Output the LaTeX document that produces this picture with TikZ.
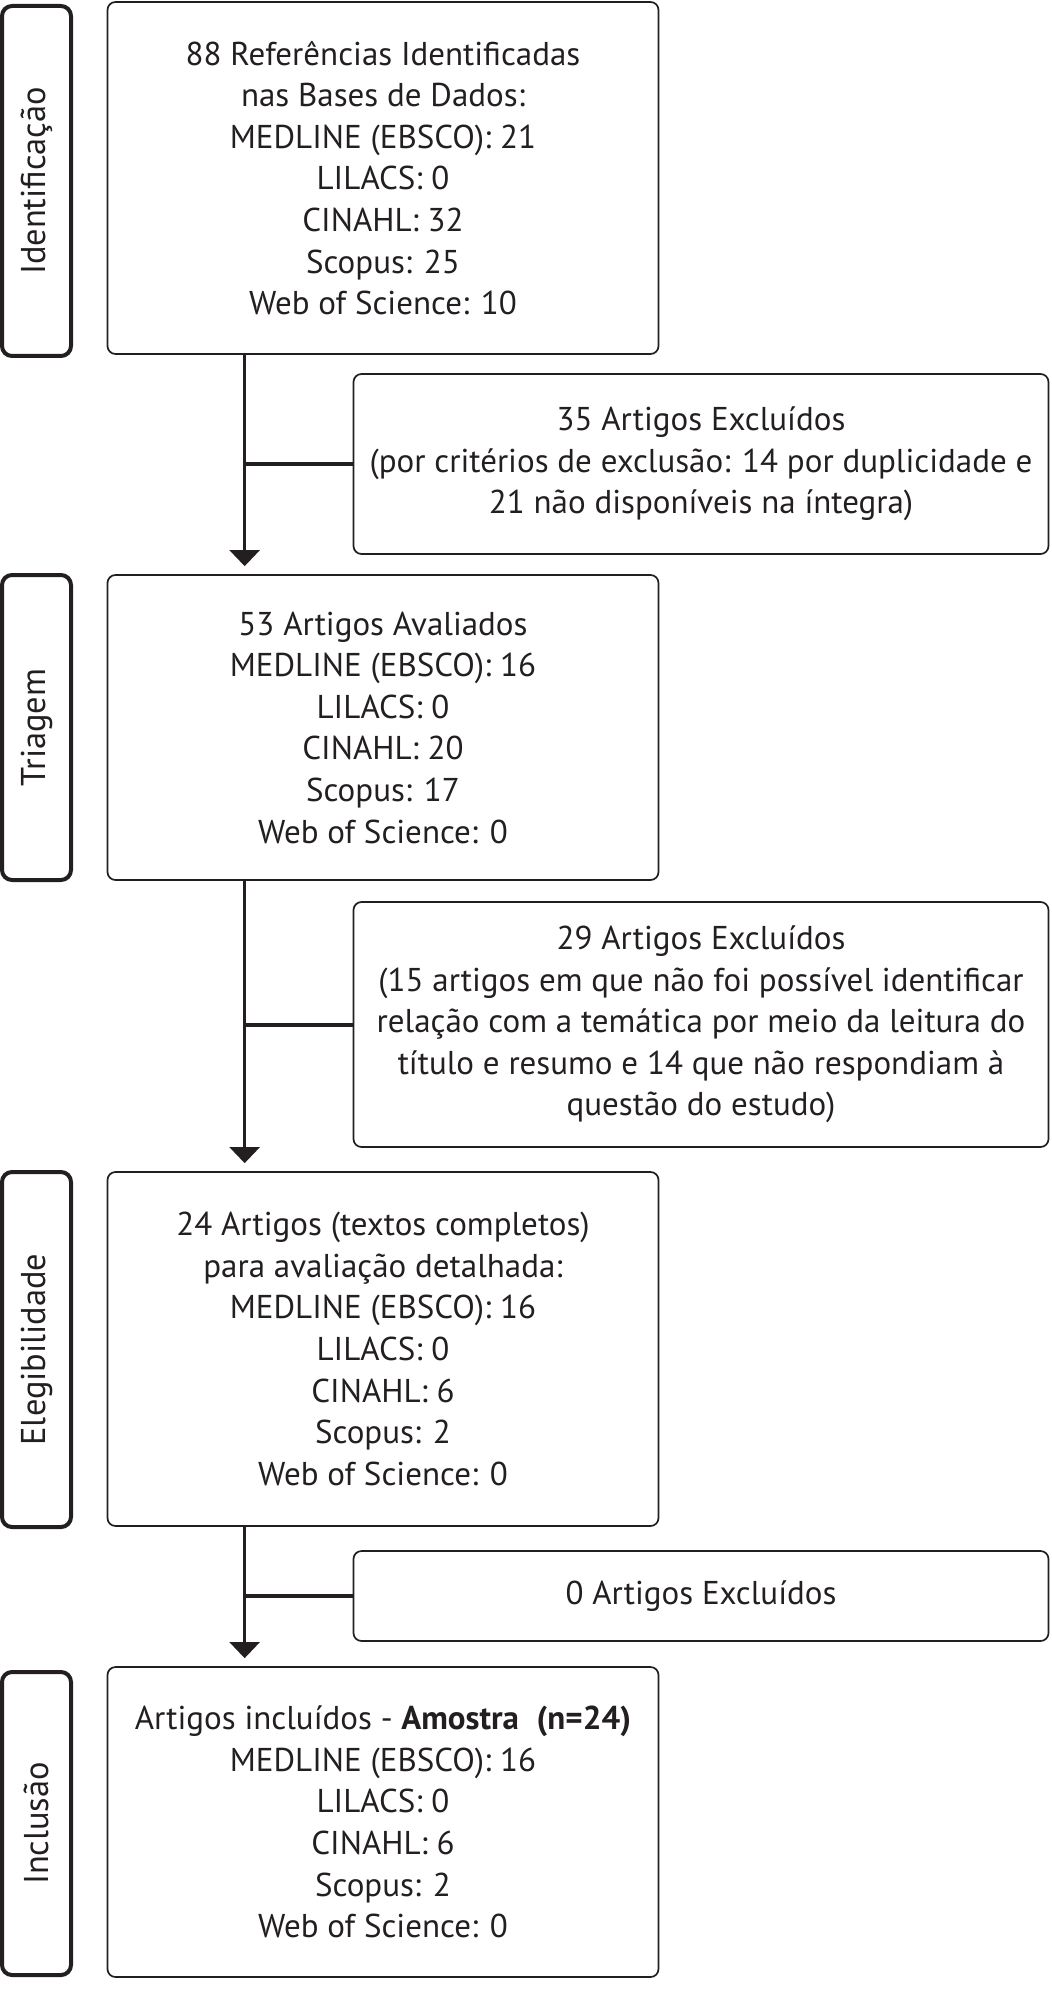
\documentclass[tikz,border=0pt]{standalone}
\usepackage{fontspec}
\setmainfont{PT Sans}
\usetikzlibrary{arrows.meta}
\definecolor{ink}{RGB}{35,31,32}

\begin{document}
\begin{tikzpicture}[x=0.5pt,y=-0.5pt,
		mainbox/.style={draw=ink, line width=0.85pt, rounded corners=4pt, minimum width=275.5pt, inner sep=0pt, align=center, text=ink, font=\fontsize{16.5}{20.8}\selectfont},
		exbox/.style={mainbox, minimum width=347.5pt},
		sidebox/.style={draw=ink, line width=2pt, rounded corners=5pt, minimum height=34.5pt, inner sep=0pt, rotate=90, text=ink, font=\fontsize{17.2}{18}\selectfont},
		flow/.style={draw=ink, line width=1.2pt, -{Triangle[width=15pt, length=8pt]}, shorten >=4pt},
		branch/.style={draw=ink, line width=2pt}
	]
		\useasboundingbox (0,0) rectangle (1051,2000);

		% etapas
		\node[sidebox, minimum width=175pt] (side1) at (36.5,181) {Identificação};
		\node[sidebox, minimum width=152.5pt] (side2) at (36.5,727.5) {Triagem};
		\node[sidebox, minimum width=177.5pt] (side3) at (36.5,1349.5) {Elegibilidade};
		\node[sidebox, minimum width=151.5pt] (side4) at (36.5,1823.5) {Inclusão};

		% caixas principais
		\node[mainbox, minimum height=176pt] (ref) at (383,178) {88 Referências Identificadas\\nas Bases de Dados:\\MEDLINE (EBSCO): 21\\LILACS: 0\\CINAHL: 32\\Scopus: 25\\Web of Science: 10};
		\node[mainbox, minimum height=152.5pt] (aval) at (383,727.5) {53 Artigos Avaliados\\MEDLINE (EBSCO): 16\\LILACS: 0\\CINAHL: 20\\Scopus: 17\\Web of Science: 0};
		\node[mainbox, minimum height=177pt] (eleg) at (383,1349) {24 Artigos (textos completos)\\para avaliação detalhada:\\MEDLINE (EBSCO): 16\\LILACS: 0\\CINAHL: 6\\Scopus: 2\\Web of Science: 0};
		\node[mainbox, minimum height=155pt] (incl) at (383,1822) {Artigos incluídos - \textbf{Amostra}\ \ \textbf{(n=24)}\\MEDLINE (EBSCO): 16\\LILACS: 0\\CINAHL: 6\\Scopus: 2\\Web of Science: 0};

		% excluidos
		\node[exbox, minimum height=90pt] (exc1) at (701,464) {35 Artigos Excluídos\\(por critérios de exclusão: 14 por duplicidade e\\21 não disponíveis na íntegra)};
		\node[exbox, minimum height=122.5pt] (exc2) at (701,1024.5) {29 Artigos Excluídos\\(15 artigos em que não foi possível identificar\\relação com a temática por meio da leitura do\\título e resumo e 14 que não respondiam à\\questão do estudo)};
		\node[exbox, minimum height=45pt] (exc3) at (701,1596) {0 Artigos Excluídos};

		% fluxo
		\coordinate (t1) at ([xshift=69pt]ref.south west);
		\coordinate (t2) at ([xshift=69pt]aval.south west);
		\coordinate (t3) at ([xshift=69pt]eleg.south west);
		\draw[flow] (t1) -- (t1 |- aval.north);
		\draw[flow] (t2) -- (t2 |- eleg.north);
		\draw[flow] (t3) -- (t3 |- incl.north);
		\draw[branch] (exc1.west) -- (exc1.west -| t1);
		\draw[branch] (exc2.west) -- (exc2.west -| t2);
		\draw[branch] (exc3.west) -- (exc3.west -| t3);
	\end{tikzpicture}
\end{document}
